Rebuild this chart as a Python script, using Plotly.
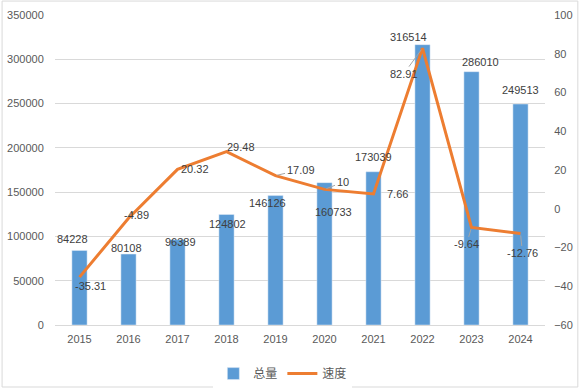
import plotly.graph_objects as go

years = ["2015", "2016", "2017", "2018", "2019", "2020", "2021", "2022", "2023", "2024"]
totals = [84228, 80108, 96389, 124802, 146126, 160733, 173039, 316514, 286010, 249513]
speeds = [-35.31, -4.89, 20.32, 29.48, 17.09, 10, 7.66, 82.91, -9.64, -12.76]
left_ticks = [0, 50000, 100000, 150000, 200000, 250000, 300000, 350000]
right_ticks = [-60, -40, -20, 0, 20, 40, 60, 80, 100]

# label offsets in pixels (style only)
bar_lbl_dx = [-7, -2, 3, 1, -8, 9, 0, -14, 9, 0]
bar_lbl_dy = [11, 6, -2, -10, -7, -29, 15, 8, 10, 14]
line_lbl_dx = [11, 8, 17, 14, 25, 18, 24, -19, -5, 2]
line_lbl_dy = [-9, 3, 0, 5, 6, 7, 0, -26, -17, -20]
line_leader = [False, False, False, False, True, True, False, True, True, True]

FONT = "Liberation Sans, Noto Sans CJK SC, sans-serif"
BLUE = "#5B9BD5"
ORANGE = "#ED7D31"

fig = go.Figure()
fig.add_trace(go.Bar(x=years, y=totals, name="总量", marker_color=BLUE, yaxis="y"))
fig.add_trace(go.Scatter(x=years, y=speeds, name="速度", mode="lines",
                         line=dict(color=ORANGE, width=3), yaxis="y2"))

ann = []
for i, v in enumerate(totals):
    ann.append(dict(x=i, y=v, xref="x", yref="y", text=str(v), showarrow=False,
                    xshift=bar_lbl_dx[i], yshift=bar_lbl_dy[i],
                    font=dict(family=FONT, size=11, color="#404040")))
for i, v in enumerate(speeds):
    txt = f"{v:g}"
    if line_leader[i]:
        ann.append(dict(x=i, y=v, xref="x", yref="y2", text=txt, showarrow=True,
                        arrowhead=0, arrowwidth=1, arrowcolor="#A6A6A6",
                        ax=line_lbl_dx[i], ay=-line_lbl_dy[i], standoff=2,
                        font=dict(family=FONT, size=11, color="#404040")))
    else:
        ann.append(dict(x=i, y=v, xref="x", yref="y2", text=txt, showarrow=False,
                        xshift=line_lbl_dx[i], yshift=line_lbl_dy[i],
                        font=dict(family=FONT, size=11, color="#404040")))

fig.update_layout(
    width=582, height=390,
    margin=dict(l=55, r=37, t=15, b=65, autoexpand=False),
    plot_bgcolor="white", paper_bgcolor="white",
    bargap=0.69,
    font=dict(family=FONT, size=11, color="#595959"),
    xaxis=dict(type="category", range=[-0.5, len(years) - 0.5], autorange=False,
               automargin=False,
               showgrid=False, showline=True, linecolor="#D9D9D9",
               ticks="outside", ticklen=4, tickcolor="rgba(0,0,0,0)",
               tickfont=dict(size=11, color="#595959")),
    yaxis=dict(range=[0, 350000], autorange=False, tickvals=left_ticks, automargin=False,
               ticktext=[str(t) for t in left_ticks],
               showgrid=True, gridcolor="#D9D9D9", gridwidth=1, zeroline=False,
               ticks="outside", ticklen=8, tickcolor="rgba(0,0,0,0)",
               tickfont=dict(size=11, color="#595959")),
    yaxis2=dict(range=[-60, 100], autorange=False, tickvals=right_ticks, overlaying="y", side="right",
                automargin=False,
                showgrid=False, zeroline=False, ticks="outside", ticklen=6,
                tickcolor="rgba(0,0,0,0)", tickfont=dict(size=11, color="#595959")),
    legend=dict(orientation="h", x=0.465, xanchor="center", y=-0.11, yanchor="top",
                font=dict(family=FONT, size=12, color="#595959"), traceorder="normal"),
    annotations=ann,
    shapes=[dict(type="rect", xref="paper", yref="paper",
                 x0=-0.108, x1=1.067, y0=-0.2, y1=1.045,
                 line=dict(color="#D9D9D9", width=1), fillcolor="rgba(0,0,0,0)", layer="below")],
    showlegend=True,
)

fig.write_html("out.html", config={"displayModeBar": False},
               post_script="document.body.style.margin='0';")
